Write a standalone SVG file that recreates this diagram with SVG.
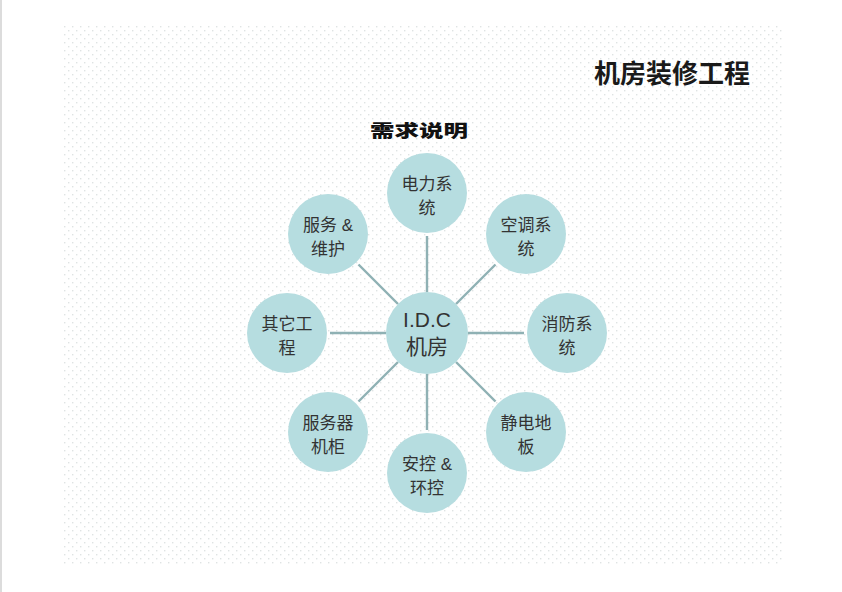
<svg xmlns="http://www.w3.org/2000/svg" width="842" height="592" viewBox="0 0 842 592">
  <defs>
    <pattern id="dots" x="63" y="25" width="8" height="8" patternUnits="userSpaceOnUse">
      <rect x="1" y="1" width="1.4" height="1.4" fill="#dfe3e3"/>
      <rect x="5" y="5" width="1.4" height="1.4" fill="#dfe3e3"/>
    </pattern>
    <style>
      .node circle { fill: #b6dde0; }
      .lbl { font-family: "Liberation Sans", "Noto Sans CJK SC", sans-serif; font-size: 17px; fill: #333333; text-anchor: middle; }
      .clbl { font-family: "Liberation Sans", "Noto Sans CJK SC", sans-serif; font-size: 21px; fill: #333333; text-anchor: middle; }
      .conn line { stroke: #8fb1b4; stroke-width: 2.4; }
    </style>
  </defs>
  <rect x="0" y="0" width="842" height="592" fill="#ffffff"/>
  <rect x="0" y="0" width="2" height="592" fill="#dcdcdc"/>
  <rect x="63" y="25" width="720" height="540" fill="url(#dots)"/>

  <text x="750" y="83" font-family="'Noto Sans CJK SC', sans-serif" font-size="26" font-weight="bold" fill="#1a1a1a" text-anchor="end">机房装修工程</text>
  <text x="370" y="137" font-family="'Noto Sans CJK SC', sans-serif" font-size="17" font-weight="900" fill="#111111" textLength="98" lengthAdjust="spacingAndGlyphs">需求说明</text>

  <g id="connectors" class="conn">
    <line x1="427" y1="292" x2="427" y2="236"/>
    <line x1="427" y1="374" x2="427" y2="430"/>
    <line x1="468" y1="333" x2="524" y2="333"/>
    <line x1="386" y1="333" x2="330" y2="333"/>
    <line x1="456" y1="304" x2="495.5" y2="264.5"/>
    <line x1="398" y1="304" x2="358.5" y2="264.5"/>
    <line x1="456" y1="362" x2="495.5" y2="401.5"/>
    <line x1="398" y1="362" x2="358.5" y2="401.5"/>
  </g>

  <g id="node-idc" class="node">
    <circle cx="427" cy="333" r="41"/>
    <text class="clbl" x="427" y="327">I.D.C</text>
    <text class="clbl" x="427" y="354">机房</text>
  </g>
  <g id="node-power" class="node">
    <circle cx="427" cy="193" r="40"/>
    <text class="lbl" x="427" y="190">电力系</text>
    <text class="lbl" x="427" y="214">统</text>
  </g>
  <g id="node-aircon" class="node">
    <circle cx="526" cy="234" r="40"/>
    <text class="lbl" x="526" y="231">空调系</text>
    <text class="lbl" x="526" y="255">统</text>
  </g>
  <g id="node-fire" class="node">
    <circle cx="567" cy="333" r="40"/>
    <text class="lbl" x="567" y="330">消防系</text>
    <text class="lbl" x="567" y="354">统</text>
  </g>
  <g id="node-floor" class="node">
    <circle cx="526" cy="432" r="40"/>
    <text class="lbl" x="526" y="429">静电地</text>
    <text class="lbl" x="526" y="453">板</text>
  </g>
  <g id="node-security" class="node">
    <circle cx="427" cy="473" r="40"/>
    <text class="lbl" x="427" y="470">安控 &amp;</text>
    <text class="lbl" x="427" y="494">环控</text>
  </g>
  <g id="node-cabinet" class="node">
    <circle cx="328" cy="432" r="40"/>
    <text class="lbl" x="328" y="429">服务器</text>
    <text class="lbl" x="328" y="453">机柜</text>
  </g>
  <g id="node-other" class="node">
    <circle cx="287" cy="333" r="40"/>
    <text class="lbl" x="287" y="330">其它工</text>
    <text class="lbl" x="287" y="354">程</text>
  </g>
  <g id="node-service" class="node">
    <circle cx="328" cy="234" r="40"/>
    <text class="lbl" x="328" y="231">服务 &amp;</text>
    <text class="lbl" x="328" y="255">维护</text>
  </g>
</svg>
